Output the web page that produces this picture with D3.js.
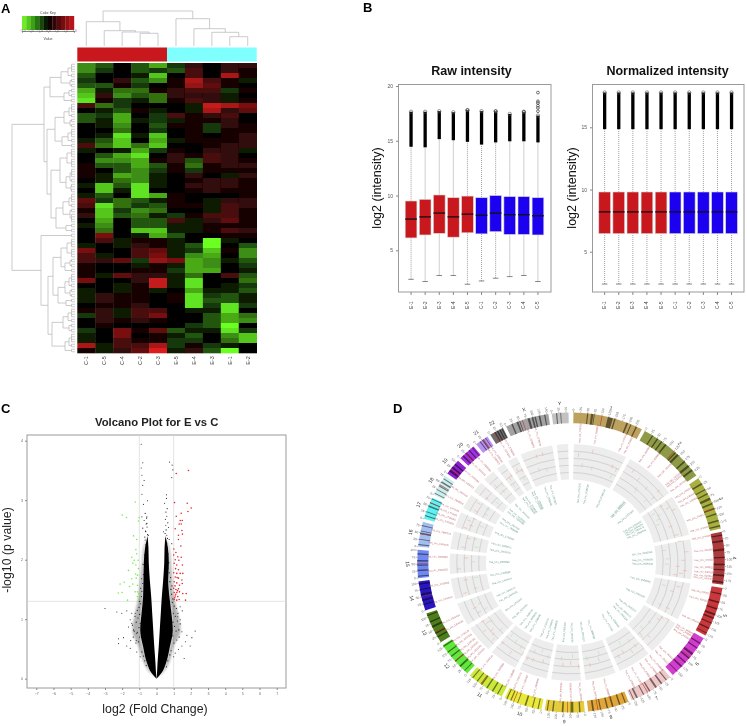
<!DOCTYPE html>
<html><head><meta charset="utf-8">
<script src="https://cdn.jsdelivr.net/npm/d3@7/dist/d3.min.js"></script>
<style>html,body{margin:0;padding:0;background:#fff}svg{display:block;opacity:.999}text{font-family:"Liberation Sans",Arial,sans-serif}</style>
</head><body><svg id="c" width="747" height="726"></svg>
<script>
// ---------- Panel A data ----------
const heatCols=["C-1","C-5","C-4","C-2","C-3","E-5","E-4","E-3","E-1","E-2"];
const heatRows=[
[-5,-3,0,-3,-6,-2,2,0,2,2],[-5,-2,0,-3,-2,-3,3,0,2,1],[-3,0,0,-1,-7,0,3,0,7,1],[-2,0,2,-3,-5,1,7,3,1,-1],
[-3,-3,1,-2,0,1,6,4,1,0],[-6,-1,-4,-4,1,2,3,3,-2,1],[-7,2,-5,-3,-4,2,2,2,-1,0],[-8,1,-2,-1,-4,1,3,2,-1,1],
[3,-4,-2,0,0,0,-1,8,7,5],[0,-1,-3,1,-1,0,-1,7,2,4],[-3,-2,-6,0,-2,3,1,2,3,0],[-3,-1,-6,-1,-2,-1,1,1,2,0],
[0,-1,-5,0,-3,1,1,-2,2,1],[0,0,-4,0,-2,0,1,-2,1,1],[0,-1,-8,-1,-7,0,1,0,1,2],[-1,-3,-7,0,-6,-1,1,1,1,2],
[3,-4,-7,-4,-7,0,0,1,2,2],[-1,0,-1,-6,-2,1,0,2,2,-1],[0,-3,-6,-8,0,2,1,3,2,0],[0,-5,-5,-6,1,2,-3,3,2,1],
[1,-3,-3,-6,-3,1,-4,1,2,2],[1,0,-3,-5,-2,1,-2,1,1,1],[1,-1,-6,-5,-1,0,2,0,-1,2],[0,-1,-4,-5,-1,0,1,2,2,1],
[-1,-7,-3,-8,-1,0,2,2,2,1],[0,-7,-1,-8,0,0,1,2,1,1],[-1,-3,0,-8,-6,1,0,0,0,1],[4,-2,-4,-3,-1,1,0,-1,2,2],
[3,-8,-4,-2,-3,1,1,-1,3,2],[1,-7,-2,-5,-4,0,0,-1,3,1],[2,-7,-3,-4,-1,-2,1,3,3,1],[0,-6,0,-3,-3,3,-1,2,4,1],
[-1,-5,0,-3,-3,-1,-1,1,1,1],[0,-4,0,-7,-7,-1,-1,1,3,2],[0,5,0,-1,-6,-3,0,0,1,1],[0,3,-1,1,1,-1,0,-9,-1,0],
[-1,0,-1,2,1,-1,-3,-9,0,-3],[5,0,0,3,4,-1,-2,-7,1,-5],[3,-1,0,3,5,-1,-5,-6,0,-5],[3,2,4,-2,6,5,-6,-5,-1,-3],
[1,0,0,-1,1,-1,-6,-5,0,-2],[1,0,0,1,1,-2,-6,-6,0,-1],[1,-1,4,2,2,-1,-4,0,3,-3],[5,0,0,2,8,-1,-8,0,0,-4],
[0,0,-1,1,8,-1,-8,0,-1,-2],[-1,0,-1,1,-1,0,-6,-1,-1,-3],[-1,2,1,1,0,1,-8,-2,-3,-1],[-1,2,1,1,0,1,-8,-3,-3,-1],
[0,1,1,2,0,0,-8,-2,-8,-2],[1,2,-1,3,3,0,-1,-1,-8,0],[-2,2,-1,3,5,0,0,-3,-6,-4],[0,2,1,2,1,0,0,-3,-6,-5],
[0,1,0,0,0,0,-2,-3,-9,0],[-2,0,5,1,4,-3,-1,-1,-8,-2],[-1,0,5,0,1,-1,-3,0,-5,-7],[-1,0,3,1,1,-2,-2,0,-4,-7],
[7,-1,3,3,7,-2,1,-2,-1,0],[1,-1,2,4,9,-1,2,-3,-9,0]];
// column dendrogram: [height,left,right]; number = column index
const colTree=[35,[24.3,0,[15.3,1,[14,2,[12.7,3,4]]]],[27.3,5,[17.3,6,[13.7,7,[9.3,8,9]]]]];
// row dendrogram: [height,left,right]; number = count of consecutive rows
const rowTree=[63,
 [31,[25,[14,[7,2,1],[5,1,1]],[11,[6,1,1],1]],
     [28,[20,[11,[6,2,1],[5,1,1]],[13,[7,2,1],1]],
         [24,[15,[8,2,2],[9,[5,2,1],[4,1,1]]],[19,[12,[6,2,1],[5,1,2]],[9,1,1]]]]],
 [34,1,[27,[22,[14,[8,2,2],[10,[5,1,1],1]],[17,[10,[6,2,1],[5,1,1]],[9,1,1]]],
           [23,[12,[7,2,1],[6,1,1]],[10,[6,2,1],1]]]]];
const keyVals=[-3,-2.5,-2,-1.5,-1,-.5,0,.5,1,1.5,2,2.5];
const keyTicks=[-3,-2,-1,0,1,2,3];
// ---------- Panel B data ----------
const sampleNames=["E-1","E-2","E-3","E-4","E-5","C-1","C-2","C-3","C-4","C-5"];
const groupColors=["#c8171d","#c8171d","#c8171d","#c8171d","#c8171d","#1c00f0","#1c00f0","#1c00f0","#1c00f0","#1c00f0"];
const rawLow=[2.35,2.15,2.7,2.7,1.9,2.2,2.45,2.6,2.7,2.15];
const rawQ1=[6.13,6.4,6.55,6.2,6.6,6.5,6.7,6.45,6.45,6.4];
const rawMed=[7.85,8.05,8.4,8.05,8.3,8.2,8.4,8.25,8.25,8.15];
const rawQ3=[9.5,9.65,10.05,9.8,9.95,9.8,10,9.9,9.9,9.8];
const rawFence=[14.45,14.4,15.15,15.05,14.9,14.65,14.85,14.95,14.95,14.85];
const rawTop=[17.65,17.65,17.7,17.6,17.8,17.7,17.7,17.45,17.65,17.3];
const rawExtra=[[9,19.4],[9,18.6],[9,18.45],[9,18.2],[9,18],[9,17.7],[4,17.8],[6,17.7],[8,17.65]];
const normLow=[2.4,2.4,2.4,2.4,2.4,2.4,2.4,2.4,2.4,2.4];
const normQ1=[6.45,6.45,6.45,6.45,6.45,6.45,6.45,6.45,6.45,6.45];
const normMed=[8.2,8.2,8.2,8.2,8.2,8.2,8.2,8.2,8.2,8.2];
const normQ3=[9.8,9.8,9.8,9.8,9.8,9.8,9.8,9.8,9.8,9.8];
const normFence=[14.85,14.85,14.85,14.85,14.85,14.85,14.85,14.85,14.85,14.85];
const normTop=[17.8,17.8,17.8,17.8,17.8,17.8,17.8,17.8,17.8,17.8];
// ---------- Panel C data ----------
const pLevels=[0,.1,.26,.54,.82,1.1,1.38,1.66,1.94,2.21,2.4];
const outerLeft=[0,-.38,-.72,-1.05,-1.4,-1.25,-1.05,-.95,-.85,-.75,-.52];
const denseLeft=[0,-.3,-.55,-.78,-.95,-.87,-.78,-.76,-.74,-.66,-.52];
const innerLeft=[0,-.03,-.06,-.13,-.19,-.25,-.31,-.39,-.45,-.47,-.52];
const outerRight=[0,.38,.72,1,1.4,1.25,1,.92,.85,.75,.52];
const denseRight=[0,.3,.55,.78,.95,.87,.75,.68,.72,.66,.52];
const innerRight=[0,.03,.06,.13,.19,.25,.31,.39,.45,.47,.52];
const upPoints=[[1.86,3.5],[1.15,3.45],[1.05,2.96],[1.79,2.95],[2.02,2.87],[1.83,2.81],[1.44,2.78],[1.15,2.73],[1.38,2.66],[1.5,2.66],[1.32,2.6],[1.44,2.6],[1.09,2.52],[1.48,2.49],[1.28,2.41],[1.51,2.43],[1.28,2.34],[1.42,2.23],[1.01,2.18],[1.13,2.12],[1,2.08],[1.24,2.05],[1.44,2.04],[1.09,2],[1.3,1.99],[1.03,1.94],[1.18,1.91],[1.51,1.91],[1.11,1.85],[1.28,1.83],[1,1.78],[1.18,1.77],[1.38,1.77],[1.53,1.77],[1.09,1.71],[1.28,1.69],[1.48,1.66],[1.03,1.63],[1.18,1.61],[1.34,1.57],[1.5,1.6],[1,1.52],[1.13,1.5],[1.28,1.51],[1.03,1.45],[1.18,1.45],[1.34,1.46],[1.73,1.43],[1.53,1.43],[1.09,1.39],[1.24,1.38],[1.03,1.33],[1.18,1.32],[1.32,1.33],[1.69,1.32],[1.06,1.36],[1.12,1.42],[1.22,1.48],[1.08,1.56],[1.2,1.7]];
const downPoints=[[-1.24,2.97],[-2,2.75],[-1.75,2.71],[-1.01,2.71],[-1.05,2.65],[-1.34,2.4],[-1.15,2.34],[-1.2,2.17],[-1.44,2.04],[-1.15,2.1],[-1.3,1.99],[-1.07,1.99],[-1.38,1.94],[-1.2,1.91],[-1.63,1.82],[-1.05,1.85],[-1.22,1.76],[-1.11,1.74],[-1.44,1.68],[-1.18,1.69],[-1.88,1.62],[-2.12,1.59],[-1.57,1.55],[-1.38,1.59],[-1.11,1.57],[-2.23,1.44],[-2,1.45],[-1.24,1.46],[-1.11,1.46],[-1.03,1.43],[-1.69,1.32],[-1.05,1.32],[-1.11,1.38]];
const nsPoints=[[-.89,3.94],[-.8,3.63],[.76,3.64],[.91,3.59],[-.89,3.54],[.95,3.51],[-.85,3.42],[-.72,3.33],[.89,3.38],[-.8,3.25],[-.85,3.1],[-.52,2.99],[.58,3.09],[.58,3.03],[-.76,2.93],[.47,2.95],[-.85,2.72],[-.56,2.72],[.6,2.73],[-.72,2.66],[-.56,2.61],[.54,2.58],[.7,2.54],[-.8,2.53],[-.62,2.47],[.41,2.47],[.6,2.41],[-.47,2.41],[.74,2.34],[-.66,2.33],[.89,2.27],[-3,1.18],[-2.31,1.12],[-1.73,1.14],[-2.02,1.1],[-1.44,1.1],[1.5,1.14],[1.38,1.21],[2.25,.8],[1.48,.79],[2.06,.69],[1.77,.73],[-2.21,.67],[-1.92,.69],[-2.21,.59],[-1.5,.64],[-1.73,.55],[-1.18,.64],[-1.53,.51],[-1.15,.45],[1.61,.34],[1.96,.55],[1.48,.55],[1.28,.49],[1.69,.62],[-.95,.37],[1,.37],[-1.34,.82],[-1.44,.93],[-1.63,.87],[1.38,.99],[1.24,1.04],[-1.53,.99],[-1.24,1.1],[1.18,.65],[1.09,.43],[-1.15,.76]];
const fringePoints=[[-1.05,.62],[-.98,.7],[-1.12,.78],[-1.02,.86],[-.95,.93],[-1.18,.95],[-1.08,1.02],[-.98,1.08],[-1.12,1.15],[-1.02,1.2],[-.92,1.26],[-.98,1.3],[-.88,1.38],[-.85,1.47],[-.92,1.52],[-.8,1.6],[-.86,1.68],[-.76,1.75],[-.7,1.84],[-.78,1.92],[-.66,2],[-.7,2.08],[-.6,2.15],[-.62,2.25],[1.02,.6],[.95,.72],[1.14,.8],[1.05,.88],[.96,.95],[1.22,.97],[1.1,1.05],[.98,1.1],[1.16,1.18],[1.03,1.22],[.92,1.28],[.95,1.34],[.88,1.42],[.84,1.5],[.9,1.56],[.78,1.63],[.82,1.7],[.74,1.78],[.68,1.86],[.72,1.95],[.64,2.02],[.67,2.1],[.58,2.18],[.6,2.28],[-.85,.45],[-.75,.38],[-.68,.3],[-.6,.22],[.85,.47],[.78,.4],[.66,.3],[.58,.2],[-1.3,.8],[-1.4,.9],[-1.25,1.05],[-1.35,.7],[-1.2,.6],[1.3,.82],[1.38,.92],[1.25,1.1],[1.32,.7],[-.52,2.42],[-.64,2.48],[-.55,2.55],[-.68,2.38],[-.6,2.6],[.5,2.44],[.64,2.36],[.56,2.5],[.66,2.62],[.52,2.68],[-.58,2.7],[-.66,2.78],[.55,2.8],[.62,2.86]];
const xTicksC=[-7,-6,-5,-4,-3,-2,-1,0,1,2,3,4,5,6,7];
const yTicksC=[0,1,2,3,4];
const fcCut=[-1,1];const pCut=1.3;
// ---------- Panel D data ----------
const chrNames=["1","2","3","4","5","6","7","8","9","10","11","12","13","14","15","16","17","18","19","20","21","22","X","Y"];
const chrSizes=[249,243,198,191,181,171,159,146,141,135,135,133,115,107,102,90,81,78,59,63,48,51,155,59];
const chrColors=["#bda25e","#8e9a44","#a8b040","#ab3a3e","#c8383c","#d23cd0","#eec8c8","#dfa63a","#e4cc3c","#e8e83e","#cde83c","#62e83c","#4f7d1c","#2a18c0","#6f88f0","#a4bef0","#62f0f0","#cceeee","#8f20d0","#a232e0","#b892f0","#6c6c6c","#a2a2a2","#c2c2c2"];
const chrBands=[[[48,4],[62,8],[72,3],[122,18],[145,5],[190,6],[205,4],[225,5]],[[30,4],[50,5],[68,5],[85,6],[130,5],[140,8],[175,6],[195,8],[215,7]],[[20,6],[45,4],[62,5],[80,8],[100,6],[120,5],[140,5],[165,6],[185,5]],[[10,4],[30,6],[60,8],[90,5],[115,6],[135,4],[155,6],[180,5]],[[20,4],[50,6],[75,5],[95,7],[110,6],[130,4],[150,5],[170,3]],[[20,5],[40,4],[65,8],[85,6],[105,5],[125,6],[150,3]],[[15,4],[35,6],[58,7],[85,5],[110,4],[135,6],[150,3]],[[10,4],[30,5],[55,6],[75,5],[100,4],[125,6]],[[15,5],[40,10],[75,6],[110,5],[130,4]],[[10,4],[30,4],[55,6],[85,3],[110,4],[125,4]],[[15,4],[35,5],[58,5],[80,5],[100,4],[120,4]],[[12,3],[32,7],[58,4],[80,5],[100,4],[125,5]],[[20,5],[35,6],[60,7],[80,5],[105,4]],[[20,4],[35,6],[55,7],[75,4],[95,5]],[[5,4],[25,5],[45,4],[60,5],[85,4]],[[5,4],[25,3],[45,6],[55,3],[75,3]],[[10,4],[25,3],[45,6],[60,3],[75,3]],[[5,3],[20,3],[35,4],[50,6],[65,4]],[[10,8],[25,6],[40,5]],[[10,6],[25,5],[40,4],[55,3]],[[15,4],[25,5],[38,3]],[[17,4],[26,5],[36,4],[45,3]],[[20,5],[40,6],[50,3],[80,8],[95,6],[105,5],[120,6],[140,4]],[[15,4],[30,3]]];
const chrRedBand=[100,125,120,60,70,80,95,110,60,100,85,60,40,50,50,45,60,40,20,25,30,15,60,0];
const upMarks=[[[28,.7],[93,.85],[205,.6],[230,.55]],[[45,.75],[90,.65],[150,.6],[200,.8],[210,.55],[235,.7]],[[15,.6],[40,.72],[60,.85],[130,.58],[180,.66]],[[5,.7],[60,.85],[100,.75],[130,.6],[150,.8],[165,.7],[175,.55]],[[30,.7],[60,.55],[150,.62]],[[5,.75],[15,.6],[30,.55],[130,.65],[155,.5]],[[5,.72],[30,.6],[60,.68],[100,.55],[130,.62]],[[60,.5],[110,.6]],[[10,.6],[50,.5],[90,.55]],[[40,.55],[90,.6],[120,.62]],[[5,.55],[60,.7],[120,.6]],[[20,.7],[40,.6],[60,.55],[80,.72],[105,.5],[125,.6]],[[30,.55],[60,.6]],[[20,.7],[85,.6]],[[25,.75],[80,.55]],[[20,.65],[70,.55]],[[15,.72],[35,.6],[55,.7],[75,.58]],[[20,.65],[60,.7]],[[15,.6],[50,.7]],[[20,.65],[50,.55]],[[25,.55],[40,.62]],[[20,.66],[40,.58]],[[70,.8],[100,.82]],[]];
const downMarks=[[[50,.42],[105,.38],[220,.32]],[[110,.4],[120,.35],[195,.36]],[[30,.3],[50,.42],[70,.35],[95,.28]],[[40,.25],[90,.32],[120,.3]],[[40,.3],[150,.38]],[[70,.4],[120,.33],[150,.42]],[[40,.38],[90,.3]],[[50,.32],[120,.4]],[[40,.3],[100,.38]],[[20,.4],[60,.28],[100,.36]],[[30,.42],[70,.35],[110,.28]],[[30,.36],[100,.4]],[[30,.34],[70,.42]],[[30,.38],[90,.3]],[[60,.35]],[[30,.3],[75,.38]],[[50,.32]],[[30,.36],[60,.4]],[[30,.3],[50,.34]],[[30,.4]],[[20,.34],[40,.3]],[[30,.36],[45,.3]],[[60,.42],[100,.36]],[]];
const gridLevels=[.2,.4,.6,.8];

// ---------- Drawing ----------
const svg=d3.select("#c");
const defs=svg.append("defs");
const mkBlur=(id,s)=>defs.append("filter").attr("id",id).attr("x","-30%").attr("y","-10%").attr("width","160%").attr("height","120%").append("feGaussianBlur").attr("stdDeviation",s);
mkBlur("soft",.7);mkBlur("soft2",.35);mkBlur("soft3",1.2);
const label=(t,x,y)=>svg.append("text").attr("x",x).attr("y",y).attr("font-size",13).attr("font-weight","bold").attr("fill","#000").text(t);
label("A",1,13);label("B",363,12);label("C",1,413);label("D",393,413);
const txt=(t,x,y,size,opt={})=>{const s=svg.append("text").attr("text-anchor","middle").attr("font-size",size)
 .attr("fill",opt.fill||"#111").attr("font-weight",opt.bold?"bold":"normal").text(t);
 if(opt.rot)s.attr("transform",`translate(${x},${y}) rotate(${opt.rot})`);else s.attr("x",x).attr("y",y);return s;};

// A: heatmap
const hx=d3.scaleBand(d3.range(heatCols.length),[77.3,256.7]);
const hy=d3.scaleBand(d3.range(heatRows.length),[63,353]);
const hc=d3.scaleLinear([-9,0,9],["#6cff24","#000000","#dc1e1e"]);
const hg=svg.append("g").attr("filter","url(#soft)");
heatRows.forEach((row,r)=>hg.selectAll(null).data(row).enter().append("rect")
 .attr("x",(d,c)=>hx(c)).attr("y",hy(r)).attr("width",hx.bandwidth()+.3).attr("height",hy.bandwidth()+.3).attr("fill",d=>hc(d)));
svg.append("rect").attr("x",77.3).attr("y",47.5).attr("width",89.7).attr("height",14).attr("fill","#c8171d");
svg.append("rect").attr("x",167).attr("y",47.5).attr("width",89.7).attr("height",14).attr("fill","#80ffff");
svg.selectAll(null).data(heatCols).enter().append("text").attr("font-size",5.5).attr("fill","#444").attr("text-anchor","middle")
 .attr("transform",(d,i)=>`translate(${hx(i)+hx.bandwidth()/2+2},360.5) rotate(-90)`).text(d=>d);
// A: column dendrogram
const ch=d3.scaleLinear([0,35],[46,11]);
const dend=svg.append("g").attr("fill","none").attr("stroke","#b4b4b4").attr("stroke-width",.7);
(function col(n){
 if(typeof n==="number")return{x:hx(n)+hx.bandwidth()/2,y:ch(0)};
 const a=col(n[1]),b=col(n[2]),y=ch(n[0]);
 dend.append("path").attr("d",`M${a.x},${a.y}V${y}H${b.x}V${b.y}`);
 return{x:(a.x+b.x)/2,y};})(colTree);
// A: row dendrogram
const rh=d3.scaleLinear([0,63],[75,12]);
let rowCursor=0;
(function rowNode(n){
 if(typeof n==="number"){
  const ys=d3.range(n).map(i=>hy(rowCursor+i)+hy.bandwidth()/2);rowCursor+=n;
  const stems=n*2;const top=ys[0]-1.25,bot=ys[n-1]+1.25;
  d3.range(stems).forEach(i=>{const y=top+(bot-top)*(i/(stems-1));
   dend.append("path").attr("d",`M${rh(3.5)},${y}H${rh(0)}`);});
  dend.append("path").attr("d",`M${rh(3.5)},${top}V${bot}`);
  return{x:rh(3.5),y:(top+bot)/2};}
 const a=rowNode(n[1]),b=rowNode(n[2]),x=rh(n[0]);
 dend.append("path").attr("d",`M${a.x},${a.y}H${x}V${b.y}H${b.x}`);
 return{x,y:(a.y+b.y)/2};})(rowTree);
// A: key
const kx=d3.scaleLinear([-3,3],[22,74]);
svg.selectAll(null).data(keyVals).enter().append("rect").attr("x",d=>kx(d)).attr("y",16).attr("width",kx(.5)-kx(0)+.2).attr("height",14)
 .attr("fill",d=>d3.scaleLinear([-3,-1.5,0,3],["#7cff2c","#2e8f12","#000","#c8171d"])(d+.25));
svg.append("g").attr("transform","translate(0,31)").call(d3.axisBottom(kx).tickValues(keyTicks).tickSize(1.5))
 .call(g=>{g.select(".domain").attr("stroke","#888");g.selectAll("line").attr("stroke","#888");g.selectAll("text").attr("font-size",3).attr("fill","#666").attr("dy",-2).attr("y",3);});
txt("Color Key",48,14,3.6,{fill:"#444"});txt("Value",48,40,3.6,{fill:"#444"});

// B: boxplots
function boxes(left,right,bandRange,scale,low,q1,med,q3,fence,top,extra,ticks,title,titleX,labX,name){
 const x=d3.scaleBand(sampleNames,bandRange).paddingInner(.17).paddingOuter(.085);
 const g=svg.append("g").attr("class",name);
 const cx=n=>x(n)+x.bandwidth()/2;
 g.append("rect").attr("x",left).attr("y",84.5).attr("width",right-left).attr("height",207.5).attr("fill","#fff").attr("stroke","#9a9a9a").attr("stroke-width",1);
 g.selectAll(".wh").data(sampleNames).enter().append("line").attr("x1",cx).attr("x2",cx).attr("y1",(d,i)=>scale(low[i])).attr("y2",(d,i)=>scale(fence[i]))
  .attr("stroke","#777").attr("stroke-width",.7).attr("stroke-dasharray","1 1");
 g.selectAll(".cap").data(sampleNames).enter().append("line").attr("x1",d=>cx(d)-2.8).attr("x2",d=>cx(d)+2.8).attr("y1",(d,i)=>scale(low[i])).attr("y2",(d,i)=>scale(low[i])).attr("stroke","#555").attr("stroke-width",.7);
 g.selectAll(".ol").data(sampleNames).enter().append("line").attr("x1",cx).attr("x2",cx).attr("y1",(d,i)=>scale(fence[i])).attr("y2",(d,i)=>scale(top[i]))
  .attr("stroke","#000").attr("stroke-width",3.3);
 g.selectAll(".oc").data(sampleNames).enter().append("circle").attr("cx",cx).attr("cy",(d,i)=>scale(top[i])).attr("r",1.7).attr("fill","none").attr("stroke","#555").attr("stroke-width",.6);
 g.selectAll(".oe").data(extra).enter().append("circle").attr("cx",d=>cx(sampleNames[d[0]])).attr("cy",d=>scale(d[1])).attr("r",1.4).attr("fill","#fff").attr("fill-opacity",.3).attr("stroke","#333").attr("stroke-width",.7);
 g.selectAll(".bx").data(sampleNames).enter().append("rect").attr("x",d=>x(d)).attr("width",x.bandwidth()).attr("y",(d,i)=>scale(q3[i])).attr("height",(d,i)=>scale(q1[i])-scale(q3[i]))
  .attr("fill",(d,i)=>groupColors[i]).attr("stroke","#d8d8d8").attr("stroke-width",.6);
 g.selectAll(".md").data(sampleNames).enter().append("line").attr("x1",d=>x(d)).attr("x2",d=>x(d)+x.bandwidth()).attr("y1",(d,i)=>scale(med[i])).attr("y2",(d,i)=>scale(med[i])).attr("stroke","#111").attr("stroke-width",1.3);
 const ay=g.append("g").attr("transform",`translate(${left},0)`).call(d3.axisLeft(scale).tickValues(ticks).tickSize(2.5).tickPadding(3));
 ay.select(".domain").remove();ay.selectAll("line").attr("stroke","#888");ay.selectAll("text").attr("font-size",5).attr("fill","#555");
 const ax=g.append("g").attr("transform","translate(0,292)").call(d3.axisBottom(x).tickSize(3));
 ax.select(".domain").remove();ax.selectAll("line").attr("stroke","#888");
 ax.selectAll("text").attr("font-size",4.6).attr("fill","#444").attr("transform","translate(0,6) rotate(-90)").attr("text-anchor","end").attr("x",-3.5).attr("y",0).attr("dy",".32em");
 txt(title,titleX,75,12.5,{bold:true});
 txt("log2 (intensity)",labX,188,12.5,{rot:-90});
}
const yRaw=d3.scaleLinear([5,20],[250.3,86]);
const yNorm=d3.scaleLinear([5,15],[251.7,127.3]);
boxes(398.5,551,[404,545],yRaw,rawLow,rawQ1,rawMed,rawQ3,rawFence,rawTop,rawExtra,[5,10,15,20],"Raw intensity",471.5,381,"raw");
boxes(592.5,744,[597.6,738.6],yNorm,normLow,normQ1,normMed,normQ3,normFence,normTop,[],[5,10,15],"Normalized intensity",667.5,576,"norm");

// C: volcano
const vx=d3.scaleLinear([-7,7],[36.3,276.7]);
const vy=d3.scaleLinear([0,4],[678.7,440.7]);
const vg=svg.append("g");
vg.append("rect").attr("x",27).attr("y",435).attr("width",259).attr("height",253).attr("fill","#fff").attr("stroke","#9a9a9a").attr("stroke-width",1);
fcCut.forEach(f=>vg.append("line").attr("x1",vx(f)).attr("x2",vx(f)).attr("y1",435).attr("y2",688).attr("stroke","#d8d8d8").attr("stroke-width",.7));
vg.append("line").attr("x1",27).attr("x2",286).attr("y1",vy(pCut)).attr("y2",vy(pCut)).attr("stroke","#d8d8d8").attr("stroke-width",.7);
const areaOf=(a,b,op,f)=>{const p=vg.append("path").attr("fill","#000").attr("fill-opacity",op).attr("d",
 d3.area().y((d,i)=>vy(d)).x0((d,i)=>vx(a[i])).x1((d,i)=>vx(b[i])).curve(d3.curveMonotoneY)(pLevels));if(f)p.attr("filter","url(#"+f+")");};
areaOf(outerLeft,denseLeft,.3,"soft3");areaOf(outerRight,denseRight,.3,"soft3");
areaOf(denseLeft,innerLeft,1);areaOf(denseRight,innerRight,1);
const pts=(d,c,r)=>vg.selectAll(null).data(d).enter().append("circle").attr("cx",p=>vx(p[0])).attr("cy",p=>vy(p[1])).attr("r",r).attr("fill",c);
pts(nsPoints,"#222",.55);pts(fringePoints,"#111",.6);pts(upPoints,"#e8282c",.8);pts(downPoints,"#74f04c",.8);
const axV=vg.append("g").attr("transform","translate(0,688)").call(d3.axisBottom(vx).tickValues(xTicksC).tickSize(2).tickPadding(2).tickFormat(d3.format("d")));
axV.select(".domain").remove();axV.selectAll("line").attr("stroke","#888");axV.selectAll("text").attr("font-size",3.6).attr("fill","#666");
const ayV=vg.append("g").attr("transform","translate(27,0)").call(d3.axisLeft(vy).tickValues(yTicksC).tickSize(2).tickPadding(2).tickFormat(d3.format("d")));
ayV.select(".domain").remove();ayV.selectAll("line").attr("stroke","#888");ayV.selectAll("text").attr("font-size",3.6).attr("fill","#666");
txt("Volcano Plot for E vs C",156.7,425.5,11.3,{bold:true,fill:"#222"});
txt("-log10 (p value)",11,550,12.3,{rot:-90,fill:"#222"});
txt("log2 (Fold Change)",155,712.5,12.3,{fill:"#222"});

// D: circos
const circos=svg.append("g").attr("transform","translate(571,562.5) scale(1.012,.987)");
const pie=d3.pie().sort(null).value(d=>d).padAngle(.022).startAngle(.005).endAngle(2*Math.PI-.005);
const chrArcs=pie(chrSizes);
const rOut=152,rIn=141,rTrackOut=120,rTrackIn=84;
const mb=(i,p)=>{const a=chrArcs[i],s=a.startAngle+a.padAngle/2,e=a.endAngle-a.padAngle/2;return s+(e-s)*p/chrSizes[i];};
const arc=d3.arc();
const ideo=circos.append("g").attr("filter","url(#soft2)");
chrArcs.forEach((a,i)=>{
 ideo.append("path").attr("fill",chrColors[i]).attr("d",arc({innerRadius:rIn,outerRadius:rOut,startAngle:mb(i,0),endAngle:mb(i,chrSizes[i])}));
 ideo.selectAll(null).data(chrBands[i]).enter().append("path").attr("fill","#000").attr("fill-opacity",.5)
  .attr("d",b=>arc({innerRadius:rIn,outerRadius:rOut,startAngle:mb(i,b[0]),endAngle:mb(i,Math.min(b[0]+b[1],chrSizes[i]))}));
 if(chrRedBand[i]>0)ideo.append("path").attr("fill","#c03020").attr("fill-opacity",.8).attr("d",arc({innerRadius:rIn,outerRadius:rOut,startAngle:mb(i,chrRedBand[i]),endAngle:mb(i,chrRedBand[i]+2.5)}));
 const s=mb(i,0)+.008,e=mb(i,chrSizes[i])-.008;
 circos.append("path").attr("fill","#ededed").attr("d",arc({innerRadius:rTrackIn,outerRadius:rTrackOut,startAngle:s,endAngle:e}));
});
const rMark=d3.scaleLinear([0,1],[rTrackIn,rTrackOut]);
chrArcs.forEach((a,i)=>{
 const s=mb(i,0)+.008,e=mb(i,chrSizes[i])-.008;
 gridLevels.forEach(g=>circos.append("path").attr("fill","none").attr("stroke","#c4c4c4").attr("stroke-width",.4)
  .attr("d",d3.arc()({innerRadius:rMark(g),outerRadius:rMark(g),startAngle:s,endAngle:e})));
});
const polar=(r,a)=>[r*Math.sin(a),-r*Math.cos(a)];
const radialText=(sel,r,size,color,outward,op=1)=>{
 sel.attr("font-size",size).attr("fill",color).attr("fill-opacity",op).attr("dy",".33em").each(function(d){
  const a=d.a,[x,y]=polar(r,a),deg=a*180/Math.PI-90,flip=a>Math.PI;
  const anchor=(flip===outward)?"end":"start";
  d3.select(this).attr("text-anchor",anchor).attr("transform",`translate(${x},${y}) rotate(${flip?deg+180:deg})`);
 });};
const markSet=(marks,col,txtCol,r,outward,prefix)=>{
 chrArcs.forEach((c,i)=>{
  const d=marks[i].map(m=>({a:mb(i,m[0]),v:m[1],n:`${prefix}_circ_${String(i+1).padStart(2,"0")}${String(m[0]).padStart(5,"0")}`}));
  circos.selectAll(null).data(d).enter().append("path").attr("stroke",col).attr("stroke-width",.5)
   .attr("d",m=>{const p=polar(rMark(m.v)-2,m.a),q=polar(rMark(m.v)+2,m.a);return `M${p}L${q}`;});
  radialText(circos.selectAll(null).data(d).enter().append("text").text(m=>m.n),r,2.5,txtCol,outward,.9);
 });};
markSet(upMarks,"#e8a88e","#b4525a",122,true,"hsa");
markSet(downMarks,"#b0d6a6","#4f8d74",81,false,"hsa");
chrArcs.forEach((c,i)=>{
 const ticks=d3.range(0,chrSizes[i]+1,25);
 const d=ticks.map(t=>({a:mb(i,t),t}));
 circos.selectAll(null).data(d).enter().append("path").attr("stroke","#555").attr("stroke-width",.4)
  .attr("d",m=>`M${polar(rOut,m.a)}L${polar(rOut+1.5,m.a)}`);
 radialText(circos.selectAll(null).data(d).enter().append("text").text(m=>m.t),rOut+2,3.2,"#666",true);
 const mid=mb(i,chrSizes[i]/2),[nx,ny]=polar(rOut+9.5,mid);
 circos.append("text").attr("font-size",5).attr("fill","#333").attr("text-anchor","middle").attr("dy",".33em")
  .attr("transform",`translate(${nx},${ny}) rotate(${mid*180/Math.PI+(mid>Math.PI/2&&mid<1.5*Math.PI?180:0)})`).text(chrNames[i]);
});
</script></body></html>
